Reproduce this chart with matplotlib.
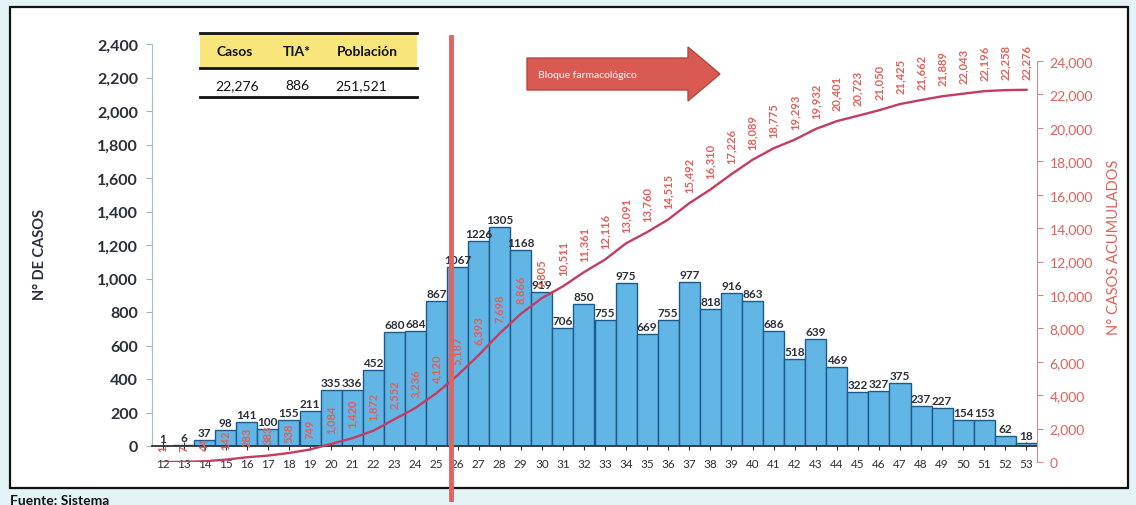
import matplotlib
matplotlib.use("Agg")
from matplotlib import pyplot as plt
from matplotlib.patches import Rectangle, Polygon
from matplotlib.lines import Line2D

plt.rcParams['font.family'] = ['Lato', 'DejaVu Sans']

weeks = list(range(12, 54))
casos = [1, 6, 37, 98, 141, 100, 155, 211, 335, 336, 452, 680, 684, 867,
         1067, 1226, 1305, 1168, 919, 706, 850, 755, 975, 669, 755, 977,
         818, 916, 863, 686, 518, 639, 469, 322, 327, 375, 237, 227, 154,
         153, 62, 18]
acumulados = [1, 7, 44, 142, 283, 383, 538, 749, 1084, 1420, 1872, 2552,
              3236, 4120, 5187, 6393, 7698, 8866, 9805, 10511, 11361, 12116,
              13091, 13760, 14515, 15492, 16310, 17226, 18089, 18775, 19293,
              19932, 20401, 20723, 21050, 21425, 21662, 21889, 22043, 22196,
              22258, 22276]
left_ticks = list(range(0, 2401, 200))
right_ticks = list(range(0, 24001, 2000))
tabla_head = ["Casos", "TIA*", "Población"]
tabla_vals = ["22,276", "886", "251,521"]

W, H = 1136, 506
RED = '#e0605a'
TXT = '#2a2f3a'

def px(x, y):
    return (x / W, 1 - y / H)

fig = plt.figure(figsize=(W / 100, H / 100), dpi=100, facecolor='#e4f3f6')

# white frame, behind everything
fig.patches.append(Rectangle(px(10, 489), 1118 / W, 481 / H, transform=fig.transFigure,
                             facecolor='white', edgecolor='#111111', lw=1.6, zorder=-5))

ax = fig.add_axes([152 / W, 59 / H, 885 / W, 402 / H], zorder=1)
ax.set_facecolor('none')
ax.bar(weeks, casos, width=1.0, color='#62b6e6', edgecolor='#1d5a8a', lw=1.0, zorder=2)
for w, c in zip(weeks, casos):
    ax.text(w, c + 12, str(c), ha='center', va='bottom', fontsize=8.5, fontweight='bold',
            color=TXT, zorder=4)
ax.set_xlim(11.5, 53.5)
ax.set_ylim(0, 2400)
ax.set_yticks(left_ticks)
ax.set_yticklabels([f"{v:,}" for v in left_ticks], fontsize=11.5, fontweight='bold', color=TXT)
ax.set_xticks(weeks)
ax.set_xticklabels([str(w) for w in weeks], fontsize=8.5, color=TXT)
ax.tick_params(axis='y', length=4, color='#a0b4b8', pad=6)
ax.tick_params(axis='x', length=6, color='#333333', pad=6, direction='inout')
for s in ['top', 'right']:
    ax.spines[s].set_visible(False)
ax.spines['left'].set_color('#a0c0c4')
ax.spines['bottom'].set_color('#333333')
ax.spines['bottom'].set_linewidth(1.3)

ax2 = fig.add_axes([152 / W, 43 / H, 885 / W, 401 / H], zorder=2)
ax2.set_facecolor('none')
ax2.plot(weeks, acumulados, color='#c43c62', lw=1.7, zorder=3)
for w, a in zip(weeks, acumulados):
    ax2.annotate(f"{a:,}", (w, a), xytext=(0, 8), textcoords='offset points',
                 rotation=90, ha='center', va='bottom', fontsize=8, color=RED,
                 fontweight='bold')
ax2.set_xlim(11.5, 53.5)
ax2.set_ylim(0, 24000)
ax2.yaxis.tick_right()
ax2.set_yticks(right_ticks)
ax2.set_yticklabels([f"{v:,}" for v in right_ticks], fontsize=10, color=RED)
ax2.tick_params(axis='y', length=4, color='#c09090', pad=5)
ax2.set_xticks([])
for s in ['top', 'left', 'bottom']:
    ax2.spines[s].set_visible(False)
ax2.spines['right'].set_color('#c09090')

# axis titles
fig.text(40 / W, 1 - 254 / H, "N° DE CASOS", rotation=90, ha='center', va='center',
         fontsize=10.5, fontweight='bold', color=TXT)
fig.text(1114 / W, 1 - 247 / H, "N° CASOS ACUMULADOS", rotation=90, ha='center',
         va='center', fontsize=10.5, color=RED)

# vertical separator
fig.lines.append(Line2D([451 / W, 451 / W], [1 - 38 / H, 1 - 500 / H], transform=fig.transFigure,
                        color='#e06464', lw=3.5, zorder=5))

# arrow
arrow_pts = [(527, 59), (688, 59), (688, 48), (720, 75), (688, 102), (688, 91), (527, 91)]
fig.patches.append(Polygon([px(x, y) for x, y in arrow_pts], closed=True,
                           transform=fig.transFigure, facecolor='#d85a52',
                           edgecolor='#b8463f', lw=1.0, zorder=5))
fig.text(538 / W, 1 - 75 / H, "Bloque farmacológico", ha='left', va='center',
         fontsize=7.5, color='white', zorder=6)

# table
fig.patches.append(Rectangle(px(200, 69), 217 / W, 35 / H, transform=fig.transFigure,
                             facecolor='#f8e67a', edgecolor='none', zorder=4))
for yy in [34, 69, 98]:
    fig.lines.append(Line2D([200 / W, 417 / W], [1 - yy / H] * 2, transform=fig.transFigure,
                            color='#111111', lw=2.0, zorder=5))
for xh, xv, h, v in zip([235, 297, 367], [237, 297, 361], tabla_head, tabla_vals):
    fig.text(xh / W, 1 - 52 / H, h, ha='center', va='center', fontsize=10,
             fontweight='bold', color='#111111', zorder=6)
    fig.text(xv / W, 1 - 86 / H, v, ha='center', va='center', fontsize=10,
             color='#111111', zorder=6)

fig.text(10 / W, 1 - 495 / H, "Fuente: Sistema", ha='left', va='top', fontsize=10,
         fontweight='bold', color='#111111')

fig.savefig("out.png", dpi=100, facecolor=fig.get_facecolor())
